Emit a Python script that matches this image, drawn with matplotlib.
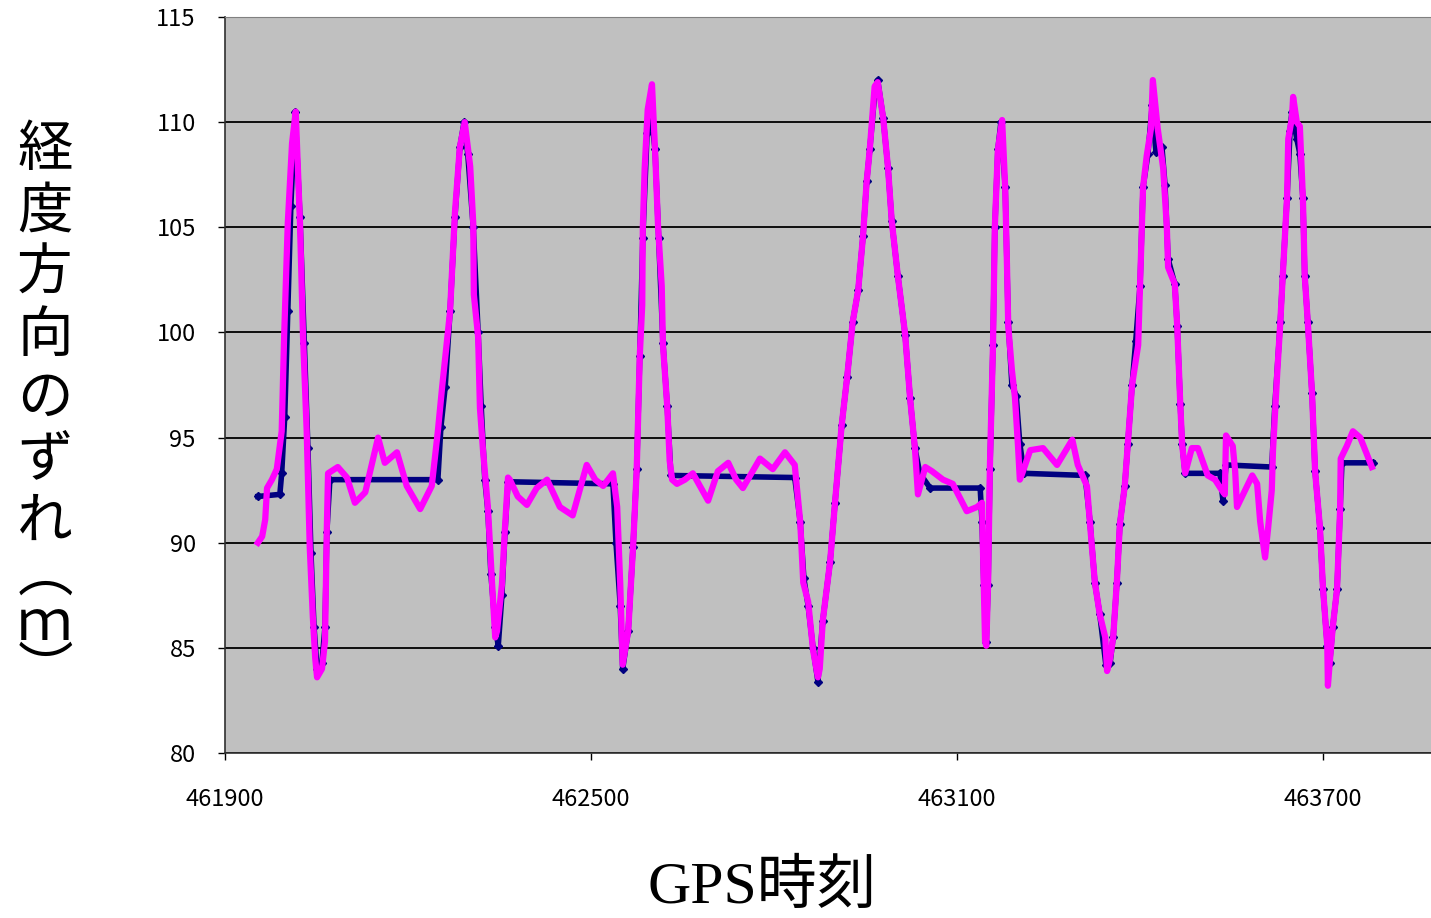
import matplotlib.pyplot as plt

# GPS time (s) and longitude-direction offset (m)
navy_t = [461954, 461990, 461993, 461998, 462003, 462008, 462015, 462023, 462030, 462036,
          462041, 462046, 462051, 462059, 462064, 462067, 462072, 462249, 462254, 462261,
          462269, 462277, 462285, 462292, 462298, 462307, 462315, 462320, 462326, 462331,
          462336, 462343, 462348, 462354, 462359, 462364, 462536, 462541, 462548, 462552,
          462561, 462569, 462575, 462580, 462585, 462592, 462598, 462605, 462611, 462618,
          462625, 462631, 462834, 462843, 462849, 462856, 462864, 462872, 462880, 462892,
          462900, 462911, 462920, 462929, 462938, 462946, 462952, 462957, 462965, 462970,
          462979, 462987, 462993, 463003, 463015, 463023, 463031, 463039, 463056, 463138,
          463141, 463144, 463148, 463151, 463154, 463159, 463162, 463167, 463172, 463179,
          463184, 463190, 463197, 463203, 463210, 463310, 463318, 463326, 463334, 463344,
          463351, 463356, 463362, 463367, 463375, 463380, 463387, 463393, 463400, 463405,
          463413, 463420, 463426, 463436, 463441, 463446, 463457, 463461, 463466, 463469,
          463474, 463531, 463536, 463541, 463616, 463621, 463630, 463634, 463641, 463646,
          463649, 463657, 463662, 463667, 463670, 463675, 463682, 463687, 463695, 463700,
          463707, 463711, 463716, 463723, 463728, 463731, 463782]
navy_y = [92.2, 92.3, 93.3, 96.0, 101.0, 106.0, 110.5, 105.5, 99.5, 94.5,
          89.5, 86.0, 84.0, 84.3, 86.0, 90.5, 93.0, 93.0, 95.5, 97.4,
          101.0, 105.5, 108.8, 110.0, 108.5, 105.0, 100.0, 96.5, 93.0, 91.5,
          88.5, 86.0, 85.1, 87.5, 90.5, 92.9, 92.8, 90.0, 87.0, 84.0,
          85.8, 89.8, 93.5, 98.9, 104.5, 109.5, 110.5, 108.7, 104.5, 99.5,
          96.5, 93.2, 93.1, 91.0, 88.3, 87.0, 85.0, 83.4, 86.3, 89.1,
          91.9, 95.6, 97.9, 100.5, 102.0, 104.6, 107.2, 108.7, 111.3, 112.0,
          110.2, 107.8, 105.3, 102.7, 99.9, 96.9, 94.5, 93.3, 92.6, 92.6,
          91.0, 88.0, 85.3, 88.0, 93.5, 99.4, 105.0, 108.7, 110.0, 106.9,
          100.5, 97.5, 97.0, 94.7, 93.3, 93.2, 91.0, 88.1, 86.6, 84.2,
          84.3, 85.5, 88.1, 90.9, 92.7, 94.7, 97.5, 99.6, 102.2, 106.9,
          108.5, 110.8, 108.6, 108.8, 107.0, 103.5, 102.3, 100.3, 96.6, 94.7,
          93.3, 93.3, 92.0, 93.7, 93.6, 96.5, 100.5, 102.7, 106.4, 109.6,
          110.5, 109.2, 108.5, 106.4, 102.7, 100.5, 97.1, 93.4, 90.7, 87.8,
          85.1, 84.3, 86.0, 87.8, 91.6, 93.8, 93.8]

pink_t = [461954, 461961, 461966, 461969, 461977, 461985, 461993, 461997, 462003, 462010,
          462016, 462023, 462028, 462034, 462039, 462044, 462048, 462051, 462059, 462064,
          462067, 462069, 462085, 462100, 462113, 462130, 462151, 462162, 462182, 462198,
          462220, 462239, 462249, 462256, 462269, 462277, 462285, 462293, 462302, 462307,
          462308, 462315, 462318, 462323, 462331, 462338, 462343, 462346, 462354, 462359,
          462364, 462367, 462380, 462395, 462411, 462428, 462449, 462470, 462493, 462507,
          462520, 462536, 462543, 462548, 462552, 462561, 462569, 462575, 462580, 462584,
          462585, 462588, 462593, 462600, 462605, 462610, 462616, 462618, 462625, 462629,
          462633, 462641, 462654, 462667, 462692, 462708, 462725, 462738, 462749, 462777,
          462798, 462818, 462834, 462843, 462848, 462856, 462864, 462872, 462875, 462880,
          462892, 462900, 462911, 462920, 462929, 462938, 462946, 462952, 462957, 462965,
          462970, 462979, 462987, 462993, 463003, 463015, 463023, 463031, 463036, 463048,
          463059, 463077, 463093, 463116, 463133, 463141, 463143, 463146, 463148, 463151,
          463154, 463159, 463162, 463167, 463174, 463179, 463182, 463184, 463190, 463195,
          463200, 463203, 463207, 463220, 463241, 463264, 463289, 463298, 463313, 463318,
          463326, 463334, 463343, 463346, 463351, 463356, 463362, 463367, 463375, 463380,
          463387, 463397, 463400, 463405, 463411, 463418, 463421, 463429, 463438, 463444,
          463446, 463457, 463461, 463466, 463469, 463474, 463485, 463495, 463511, 463523,
          463534, 463539, 463541, 463552, 463556, 463559, 463569, 463584, 463592, 463597,
          463605, 463610, 463616, 463618, 463625, 463630, 463634, 463641, 463643, 463649,
          463651, 463657, 463662, 463667, 463670, 463675, 463682, 463687, 463695, 463700,
          463707, 463708, 463711, 463716, 463723, 463728, 463729, 463739, 463749, 463761,
          463772, 463780]
pink_y = [90.0, 90.3, 91.1, 92.6, 93.0, 93.5, 95.3, 99.8, 105.2, 109.0,
          110.5, 105.2, 99.8, 95.3, 89.8, 86.5, 84.5, 83.6, 84.0, 85.3,
          90.7, 93.3, 93.6, 93.1, 91.9, 92.4, 95.0, 93.8, 94.3, 92.7,
          91.6, 92.7, 95.3, 97.4, 101.0, 105.7, 108.8, 110.0, 107.9, 105.2,
          101.8, 99.8, 96.4, 94.4, 91.7, 88.0, 85.5, 85.8, 88.0, 90.7,
          93.1, 93.0, 92.2, 91.8, 92.6, 93.0, 91.7, 91.3, 93.7, 93.0,
          92.7, 93.3, 91.7, 88.0, 84.2, 85.8, 89.8, 93.5, 98.9, 101.3,
          105.0, 107.8, 110.6, 111.8, 108.7, 105.0, 102.2, 99.4, 96.5, 93.9,
          93.0, 92.8, 93.0, 93.3, 92.0, 93.4, 93.8, 93.0, 92.6, 94.0,
          93.5, 94.3, 93.7, 91.0, 88.1, 87.2, 84.9, 83.6, 84.0, 86.3,
          89.1, 91.9, 95.6, 97.9, 100.5, 102.0, 104.6, 107.2, 108.7, 111.7,
          111.9, 110.2, 107.8, 105.3, 102.7, 99.9, 96.9, 94.5, 92.3, 93.6,
          93.4, 93.0, 92.8, 91.5, 91.7, 91.9, 89.1, 85.3, 85.1, 88.1,
          93.7, 99.4, 105.0, 108.7, 110.1, 106.9, 103.1, 100.3, 98.2, 96.9,
          94.6, 93.0, 93.3, 94.4, 94.5, 93.7, 94.9, 93.7, 92.7, 90.9,
          88.1, 86.6, 85.5, 83.9, 84.5, 85.5, 88.1, 90.9, 92.7, 94.7,
          97.5, 99.4, 102.2, 106.9, 108.4, 109.7, 112.0, 109.7, 107.8, 105.0,
          103.1, 102.3, 100.3, 96.6, 94.7, 93.3, 94.5, 94.5, 93.2, 93.0,
          92.5, 92.3, 95.1, 94.6, 93.4, 91.7, 92.3, 93.2, 92.8, 91.0,
          89.3, 90.7, 92.5, 94.4, 98.1, 100.5, 102.7, 106.4, 109.2, 110.2,
          111.2, 110.0, 109.8, 106.4, 102.7, 100.5, 97.1, 93.4, 90.7, 87.8,
          85.1, 83.2, 84.3, 86.0, 87.8, 91.6, 94.0, 94.6, 95.3, 95.0,
          94.2, 93.6]

x_ticks = [461900, 462500, 463100, 463700]
y_ticks = [80, 85, 90, 95, 100, 105, 110, 115]
ylabel_chars = ['経', '度', '方', '向', 'の', 'ず', 'れ']
ylabel_unit = ['︵', 'ｍ', '︶']

plt.rcParams['font.family'] = ['Noto Sans CJK JP', 'DejaVu Sans']

fig = plt.figure(figsize=(14.31, 9.18), dpi=100)
ax = fig.add_axes([0.1572, 0.1797, 0.8428, 0.8018])
ax.set_facecolor('#c0c0c0')

ax.plot(navy_t, navy_y, color='#000080', lw=4, marker='D', ms=4, zorder=3)
ax.plot(pink_t, pink_y, color='#ff00ff', lw=4.5, zorder=4)

ax.set_xlim(461900, 463877)
ax.set_ylim(80, 115)
ax.set_xticks(x_ticks)
ax.set_yticks(y_ticks)
ax.yaxis.grid(True, color='black', lw=1.3)
ax.set_axisbelow(True)

ax.tick_params(axis='both', direction='out', length=5, width=1, labelsize=17)
ax.tick_params(axis='x', pad=20)
ax.tick_params(axis='y', pad=16)
for s in ['left', 'bottom']:
    ax.spines[s].set_color('#303030')
    ax.spines[s].set_linewidth(1.2)
ax.spines['top'].set_color('#808080')
ax.spines['right'].set_visible(False)

# vertical (stacked) y label
fig.text(0.0314, 1 - 336 / 918, '\n'.join(ylabel_chars), fontsize=40,
         ha='center', va='center', linespacing=1.1)
fig.text(0.0314, 1 - 624 / 918, '\n'.join(ylabel_unit), fontsize=40,
         ha='center', va='center', linespacing=0.8)

fig.text(762 / 1431, 1 - 888 / 918, 'GPS時刻', fontsize=43,
         family=['Liberation Serif', 'Noto Sans CJK JP'], ha='center', va='center')

plt.savefig('out.png', dpi=100)
